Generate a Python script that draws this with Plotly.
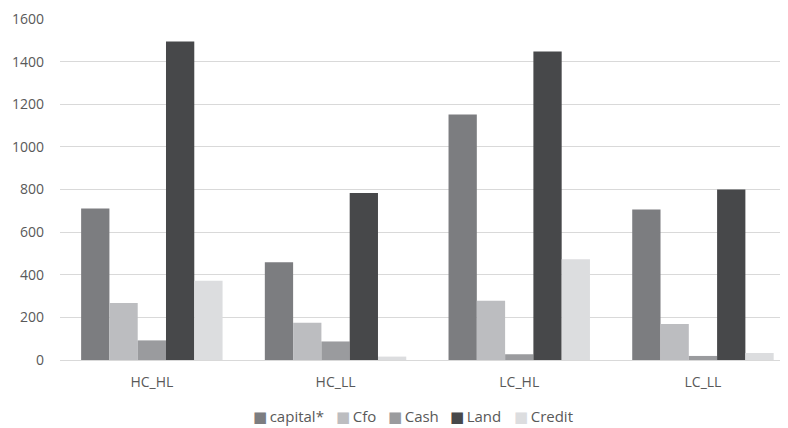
import plotly.graph_objects as go

categories = ["HC_HL", "HC_LL", "LC_HL", "LC_LL"]
capital = [711, 459, 1152, 706]
cfo = [267, 175, 278, 169]
cash = [92, 87, 27, 19]
land = [1494, 783, 1447, 800]
credit = [372, 16, 473, 33]

series = [
    ("capital*", capital, "#7c7d80"),
    ("Cfo", cfo, "#bcbdc0"),
    ("Cash", cash, "#9a9b9e"),
    ("Land", land, "#47484a"),
    ("Credit", credit, "#dcdddf"),
]
# left edge of each legend entry (page px)
legend_left = [251, 334, 386, 448, 512]

# page has an 8px body margin, so figure coords = reference coords - 8
OFF = 8
W, H = 788 - OFF, 428 - OFF
L, R, T = 60 - OFF, 0, 19 - OFF
bottom = 360 - OFF
B = H - bottom
plot_w = W - L - R
plot_h = bottom - T
cat_w = 183.7
xmax = -0.5 + plot_w / cat_w

fig = go.Figure()
annotations = []
for i, (name, vals, col) in enumerate(series):
    fig.add_trace(go.Bar(name=name, x=categories, y=vals, showlegend=False,
                         marker=dict(color=col, line=dict(width=0))))
    annotations.append(dict(
        xref="paper", yref="paper",
        x=(legend_left[i] - OFF - L) / plot_w, xanchor="left",
        y=-(416 - 360) / plot_h, yanchor="middle",
        text=f"<span style='color:{col}'>\u25A0</span>\u2009{name}",
        showarrow=False, align="left",
        font=dict(family="Open Sans, DejaVu Sans", size=15, color="#595959"),
    ))

fig.update_layout(
    width=W, height=H,
    margin=dict(l=L, r=R, t=T, b=B, autoexpand=False),
    paper_bgcolor="white", plot_bgcolor="white",
    barmode="group", bargap=0.23, bargroupgap=0,
    font=dict(family="Open Sans", size=14, color="#595959"),
    showlegend=False,
    annotations=annotations,
    xaxis=dict(range=[-0.5, xmax], showgrid=False, showline=False,
               ticks="", automargin=False,
               tickfont=dict(size=14, color="#595959"),
               ticklabelstandoff=12),
    yaxis=dict(range=[0, 1600], dtick=200, showgrid=True,
               gridcolor="#d9d9d9", gridwidth=1, automargin=False,
               zeroline=True, zerolinecolor="#d9d9d9", zerolinewidth=1,
               showline=False, ticks="",
               tickfont=dict(size=14, color="#595959"),
               ticklabelstandoff=15),
)

fig.write_html("out.html")
